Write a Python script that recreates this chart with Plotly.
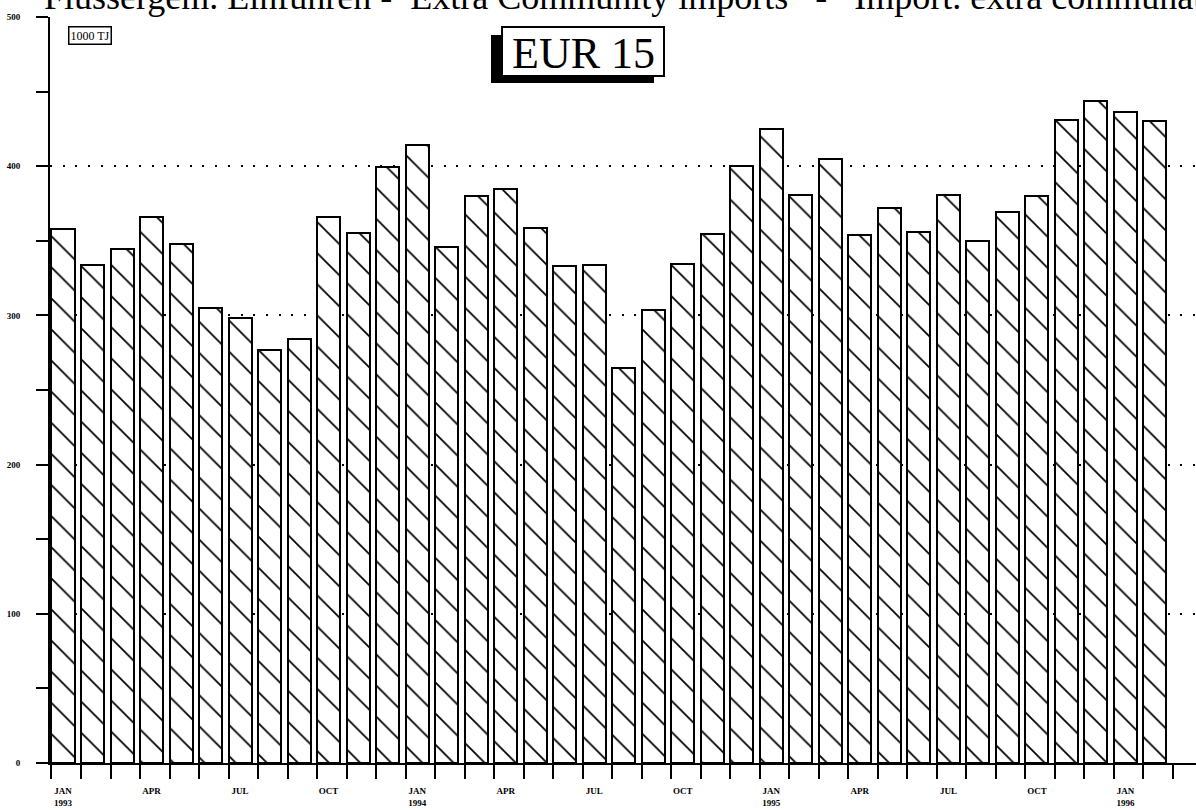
import plotly.graph_objects as go

# ---- data ----
months = [
    "1993-01", "1993-02", "1993-03", "1993-04", "1993-05", "1993-06",
    "1993-07", "1993-08", "1993-09", "1993-10", "1993-11", "1993-12",
    "1994-01", "1994-02", "1994-03", "1994-04", "1994-05", "1994-06",
    "1994-07", "1994-08", "1994-09", "1994-10", "1994-11", "1994-12",
    "1995-01", "1995-02", "1995-03", "1995-04", "1995-05", "1995-06",
    "1995-07", "1995-08", "1995-09", "1995-10", "1995-11", "1995-12",
    "1996-01", "1996-02",
]
values = [
    358, 334, 344.5, 366, 348, 305, 298, 277, 284, 366, 355, 399.5,
    414.5, 346, 380, 385, 358.5, 333, 334, 265, 303.5, 334.5, 354.5, 400,
    425, 380.5, 404.5, 354, 372, 356, 381, 350, 369, 380, 431, 444,
    436, 430,
]
label_idx = [0, 3, 6, 9, 12, 15, 18, 21, 24, 27, 30, 33, 36]
label_text = ["JAN<br>1993", "APR", "JUL", "OCT", "JAN<br>1994", "APR", "JUL",
              "OCT", "JAN<br>1995", "APR", "JUL", "OCT", "JAN<br>1996"]
y_ticks = [0, 100, 200, 300, 400, 500]
y_labels = ["0", "100", "200", "300", "400", "500"]
unit_text = "1000 TJ"
region_text = "EUR 15"
NB = "\u00a0"
header_text = ("Flussergem. Einfuhren - " + NB + "Extra Community imports"
               + NB * 2 + " - " + NB * 2 + "Import. extra communautaires")

# ---- layout geometry ----
W, H = 1196, 810
L, R, T, B = 50, 0, 17, 47
PW, PH = W - L - R, H - T - B


def px(xp):
    return (xp - L) / PW


def py(yp):
    return (H - B - yp) / PH


SERIF = "Liberation Serif"
xs = list(range(len(values)))

fig = go.Figure()
fig.add_trace(go.Bar(
    x=xs, y=values, width=0.78, offset=-0.5,
    hovertext=months,
    marker=dict(
        color="white",
        line=dict(color="black", width=2),
        pattern=dict(shape="\\", size=22, solidity=0.08,
                     fgcolor="black", bgcolor="white", fgopacity=1),
    ),
    showlegend=False,
))

fig.update_layout(
    width=W, height=H,
    margin=dict(l=L, r=R, t=T, b=B, pad=0),
    paper_bgcolor="white", plot_bgcolor="white",
    bargap=0,
    xaxis=dict(
        range=[-0.55, 38.28],
        tickmode="array",
        tickvals=[i - 0.11 for i in label_idx],
        ticktext=label_text,
        ticks="",
        showline=True, linecolor="black", linewidth=2,
        showgrid=False, zeroline=False,
        tickfont=dict(family=SERIF, size=9, color="black", weight="bold"),
        ticklabelstandoff=18,
        minor=dict(
            tickmode="array",
            tickvals=[i - 0.5 for i in range(len(values) + 1)],
            ticks="outside", ticklen=14, tickwidth=2, tickcolor="black",
            showgrid=False,
        ),
    ),
    yaxis=dict(
        range=[0, 500],
        tickmode="array",
        tickvals=y_ticks, ticktext=y_labels,
        ticks="outside", ticklen=12, tickwidth=2, tickcolor="black",
        showline=True, linecolor="black", linewidth=2,
        showgrid=True, gridcolor="black", gridwidth=2, griddash="2px,10.7px",
        zeroline=False,
        tickfont=dict(family=SERIF, size=9, color="black", weight="bold"),
        ticklabelstandoff=14,
        minor=dict(dtick=50, ticks="outside", ticklen=12, tickwidth=2,
                   tickcolor="black", showgrid=False),
    ),
    shapes=[
        # shadow of the region box
        dict(type="rect", xref="paper", yref="paper",
             x0=px(491), x1=px(654), y0=py(83), y1=py(35),
             fillcolor="black", line=dict(width=0), layer="above"),
        # region box
        dict(type="rect", xref="paper", yref="paper",
             x0=px(502), x1=px(664), y0=py(76), y1=py(27),
             fillcolor="white", line=dict(color="black", width=2), layer="above"),
    ],
    annotations=[
        dict(text=header_text, xref="paper", yref="paper",
             x=px(42), y=py(19), xanchor="left", yanchor="bottom",
             showarrow=False,
             font=dict(family=SERIF, size=36, color="black")),
        dict(text=region_text, xref="paper", yref="paper",
             x=px(583), y=py(53), xanchor="center", yanchor="middle",
             showarrow=False,
             font=dict(family=SERIF, size=44, color="black")),
        dict(text=unit_text, xref="paper", yref="paper",
             x=px(90), y=py(35), xanchor="center", yanchor="middle",
             showarrow=False, bordercolor="black", borderwidth=1.5,
             borderpad=1, bgcolor="white",
             font=dict(family=SERIF, size=12, color="black")),
    ],
)

fig.write_html(
    "out.html",
    config={"displayModeBar": False},
    post_script="document.body.style.margin='0';document.body.style.padding='0';"
                "document.documentElement.style.overflow='hidden';",
)
